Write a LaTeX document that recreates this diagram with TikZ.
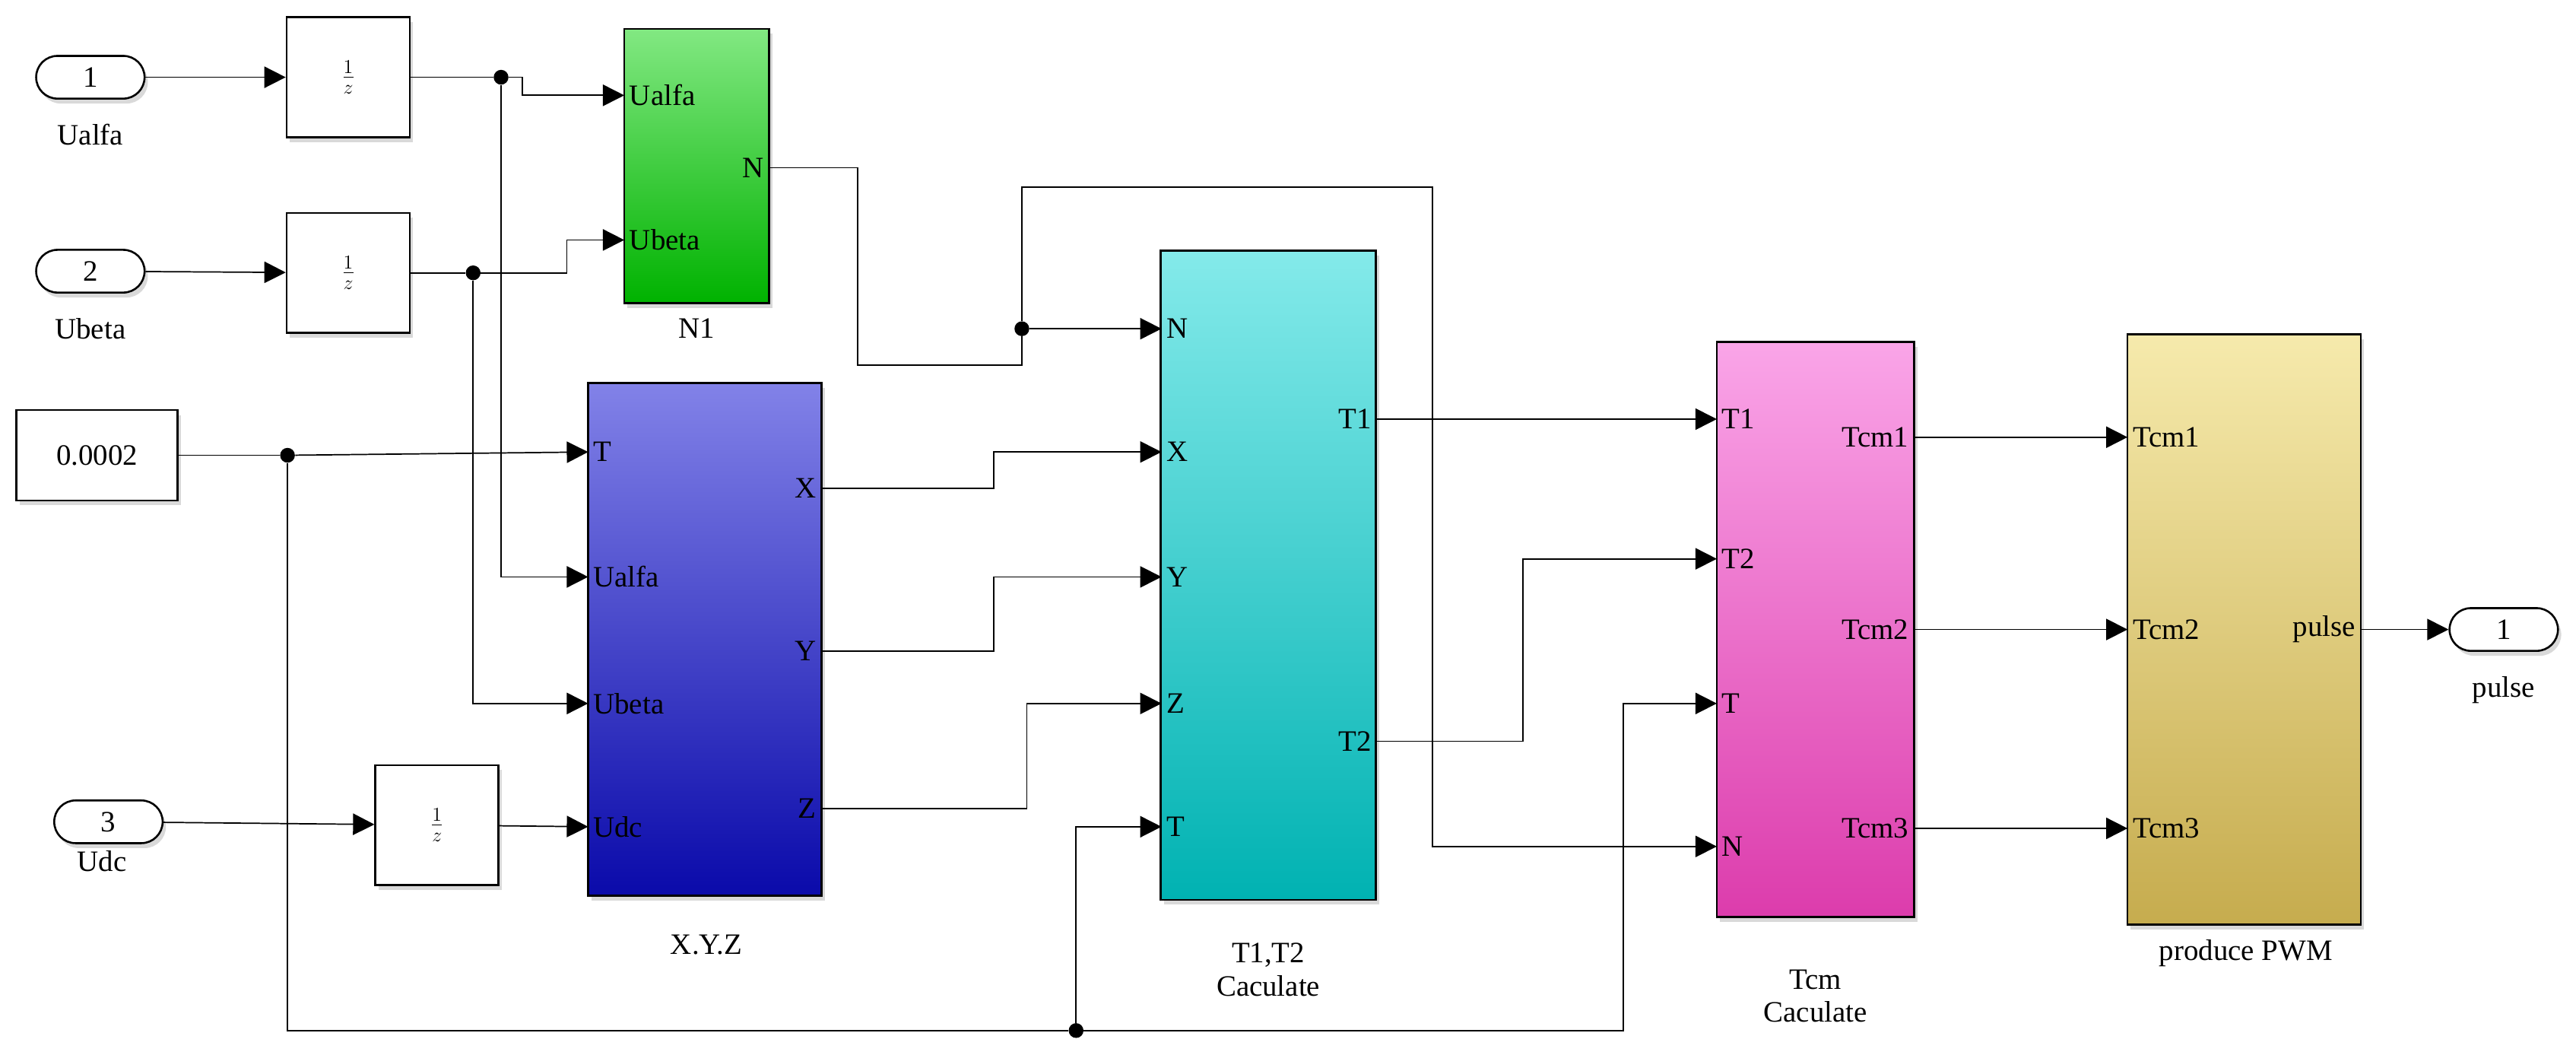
\documentclass[tikz,border=0pt]{standalone}
\usepackage{fontspec}
\setmainfont{Liberation Serif}
\usetikzlibrary{arrows.meta,shadows}
\definecolor{gnT}{RGB}{130,232,130}\definecolor{gnB}{RGB}{0,178,0}
\definecolor{blT}{RGB}{130,130,232}\definecolor{blB}{RGB}{10,10,170}
\definecolor{cyT}{RGB}{132,234,234}\definecolor{cyB}{RGB}{0,178,178}
\definecolor{pkT}{RGB}{250,165,232}\definecolor{pkB}{RGB}{220,60,172}
\definecolor{ykT}{RGB}{246,234,172}\definecolor{ykB}{RGB}{198,172,78}
\tikzset{
  every node/.style={font=\fontsize{18}{20}\selectfont},
  blk/.style={draw, line width=1.2pt, inner sep=0pt, drop shadow={shadow xshift=2pt,shadow yshift=-3pt,opacity=0.3}},
  dly/.style={blk, fill=white, minimum width=75pt, minimum height=73pt},
  io/.style={blk, fill=white, rounded corners=13pt, minimum width=66pt, minimum height=26pt},
  pin/.style={inner sep=3pt},
  wire/.style={line width=0.8pt},
  sig/.style={wire, -{Triangle[length=13pt,width=13pt]}},
  dot/.style={circle, fill, inner sep=0pt, minimum size=9pt}
}
\begin{document}
\begin{tikzpicture}[x=1pt,y=-1pt]
\useasboundingbox (0,0) rectangle (1568,640);
% sources
\node[io] (in1) at (55,47) {1};
\node at (55,82) {Ualfa};
\node[io] (in2) at (55,165) {2};
\node at (55,200) {Ubeta};
\node[io] (in3) at (66,500) {3};
\node at (62,524) {Udc};
\node[blk, fill=white, minimum width=98pt, minimum height=55pt] (cst) at (59,277) {0.0002};
\node[dly] (z1) at (212,47) {$\frac{1}{z}$};
\node[dly] (z2) at (212,166) {$\frac{1}{z}$};
\node[dly] (z3) at (266,502) {$\frac{1}{z}$};
% blocks
\node[blk, top color=gnT, bottom color=gnB, minimum width=88pt, minimum height=167pt] (n1) at (424,101) {};
\node at (424,200) {N1};
\node[blk, top color=blT, bottom color=blB, minimum width=142pt, minimum height=312pt] (xyz) at (429,389) {};
\node at (430,575) {X.Y.Z};
\node[blk, top color=cyT, bottom color=cyB, minimum width=131pt, minimum height=395pt] (tt) at (772,350) {};
\node[align=center] at (772,590) {T1,T2\\Caculate};
\node[blk, top color=pkT, bottom color=pkB, minimum width=120pt, minimum height=350pt] (tcm) at (1105,383) {};
\node[align=center] at (1105,606) {Tcm\\Caculate};
\node[blk, top color=ykT, bottom color=ykB, minimum width=142pt, minimum height=359pt] (pwm) at (1366,383) {};
\node at (1367,580) {produce PWM};
\node[io] (out1) at (1524,383) {1};
\node at (1524,420) {pulse};
% ports
\node[pin, anchor=west] (n1a) at (380,58) {Ualfa};
\node[pin, anchor=west] (n1b) at (380,146) {Ubeta};
\node[pin, anchor=east] (n1N) at (468,102) {N};
\node[pin, anchor=west] (xT) at (358,275) {T};
\node[pin, anchor=west] (xa) at (358,351) {Ualfa};
\node[pin, anchor=west] (xb) at (358,428) {Ubeta};
\node[pin, anchor=west] (xU) at (358,503) {Udc};
\node[pin, anchor=east] (xX) at (500,297) {X};
\node[pin, anchor=east] (xY) at (500,396) {Y};
\node[pin, anchor=east] (xZ) at (500,492) {Z};
\node[pin, anchor=west] (tN) at (707,200) {N};
\node[pin, anchor=west] (tX) at (707,275) {X};
\node[pin, anchor=west] (tY) at (707,351) {Y};
\node[pin, anchor=west] (tZ) at (707,428) {Z};
\node[pin, anchor=west] (tT) at (707,503) {T};
\node[pin, anchor=east] (t1) at (838,255) {T1};
\node[pin, anchor=east] (t2) at (838,451) {T2};
\node[pin, anchor=west] (cT1) at (1045,255) {T1};
\node[pin, anchor=west] (cT2) at (1045,340) {T2};
\node[pin, anchor=west] (cT) at (1045,428) {T};
\node[pin, anchor=west] (cN) at (1045,515) {N};
\node[pin, anchor=east] (c1) at (1165,266) {Tcm1};
\node[pin, anchor=east] (c2) at (1165,383) {Tcm2};
\node[pin, anchor=east] (c3) at (1165,504) {Tcm3};
\node[pin, anchor=west] (p1) at (1295,266) {Tcm1};
\node[pin, anchor=west] (p2) at (1295,383) {Tcm2};
\node[pin, anchor=west] (p3) at (1295,504) {Tcm3};
\node[pin, anchor=east] (pp) at (1437,383) {pulse};
% branch points
\node[dot] (d1) at (305,47) {};
\node[dot] (d2) at (288,166) {};
\node[dot] (d3) at (175,277) {};
\node[dot] (d4) at (622,200) {};
\node[dot] (d5) at (655,627) {};
% wires
\draw[sig] (in1) -- (z1);
\draw[sig] (in2) -- (z2);
\draw[sig] (in3) -- (z3);
\draw[wire] (z1) -- (d1);
\draw[wire] (z2) -- (d2);
\draw[wire] (cst) -- (d3);
\draw[sig] (d1) -- (318,47) |- (n1a.west);
\draw[sig] (d1) |- (xa.west);
\draw[sig] (d2) -- (345,166) |- (n1b.west);
\draw[sig] (d2) |- (xb.west);
\draw[sig] (d3) -- (xT.west);
\draw[wire] (d3) |- (d5);
\draw[sig] (z3) -- (xU.west);
\draw[wire] (n1N.east) -- (522,102) |- (622,222) -- (d4);
\draw[sig] (d4) -- (tN.west);
\draw[sig] (d4) |- (872,114) |- (cN.west);
\draw[sig] (xX.east) -- (605,297) |- (tX.west);
\draw[sig] (xY.east) -- (605,396) |- (tY.west);
\draw[sig] (xZ.east) -- (625,492) |- (tZ.west);
\draw[sig] (d5) |- (tT.west);
\draw[sig] (d5) -- (988,627) |- (cT.west);
\draw[sig] (t1.east) -- (cT1.west);
\draw[sig] (t2.east) -- (927,451) |- (cT2.west);
\draw[sig] (c1.east) -- (p1.west);
\draw[sig] (c2.east) -- (p2.west);
\draw[sig] (c3.east) -- (p3.west);
\draw[sig] (pp.east) -- (out1);
\end{tikzpicture}
\end{document}
